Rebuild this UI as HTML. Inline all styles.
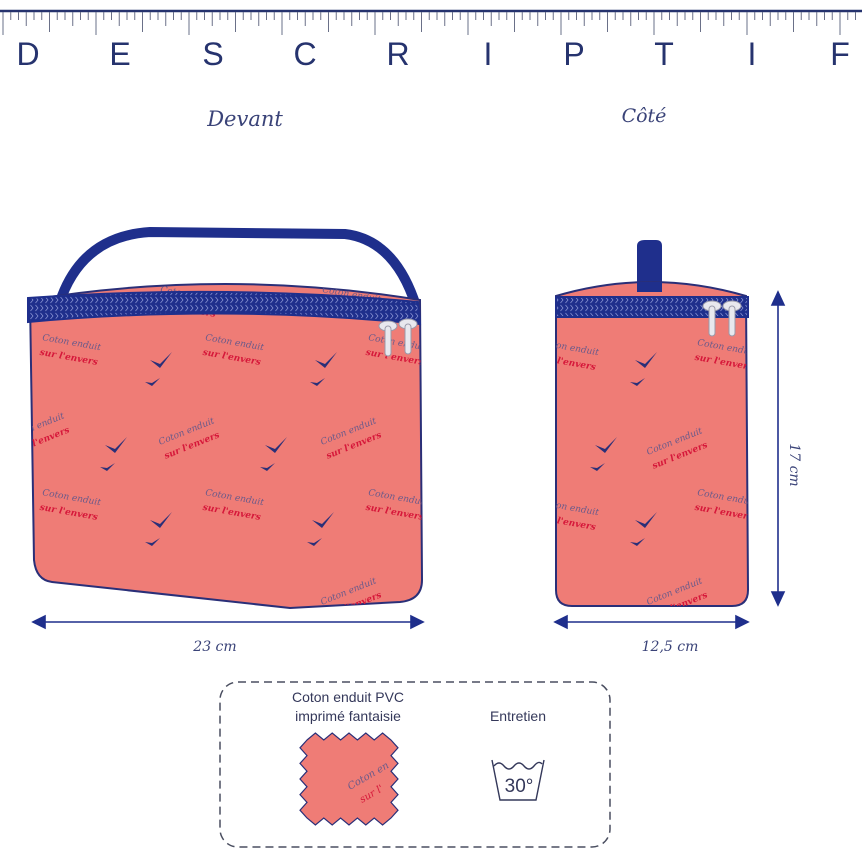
<!DOCTYPE html>
<html><head><meta charset="utf-8"><style>
html,body{margin:0;padding:0;background:#fff;}
svg{display:block}
.cur{font-family:"DejaVu Serif","Liberation Serif",serif;font-style:italic;}
</style></head><body>
<svg id="s" width="862" height="862" viewBox="0 0 862 862" xmlns="http://www.w3.org/2000/svg">
<defs>
<pattern id="zip" width="5" height="8" patternUnits="userSpaceOnUse">
<rect width="5" height="8" fill="#1f2f8c"/>
<path d="M0.5 1 L3 4 L0.5 7" stroke="#8d97d6" stroke-width="0.7" fill="none"/>
</pattern>
<clipPath id="cf"><path d="M30 300 Q225 268 420 300 L422 580 Q422 600 400 602 L290 608 L52 582 Q36 580 34 560 Z"/></clipPath>
<clipPath id="cs"><path d="M556 296 Q650 268 746 296 L748 590 Q748 606 732 606 L572 606 Q556 606 556 590 Z"/></clipPath>
<g id="mot">
<text x="0" y="0" font-size="9" fill="#6a5a8a" class="cur" transform="rotate(10)">Coton enduit</text>
<text x="0" y="15" font-size="9" fill="#d6183a" class="cur" font-weight="bold" transform="rotate(10)">sur l'envers</text>
</g>
<g id="bird"><path d="M0 0 L10 8 L22 -8 L10 4 Z" fill="#2a2f78"/><path d="M-5 22 L2 26 L10 18 L2 23 Z" fill="#2a2f78"/></g>
</defs>
<line x1="0" y1="11" x2="862" y2="11" stroke="#26336e" stroke-width="2.5"/>
<g id="ticks" stroke="#6a7088" stroke-width="1"></g>
<g font-family="Liberation Sans, sans-serif" font-size="32" fill="#26336e" text-anchor="middle">
<text x="28" y="65">D</text><text x="120" y="65">E</text><text x="213" y="65">S</text><text x="305" y="65">C</text><text x="398" y="65">R</text><text x="488" y="65">I</text><text x="574" y="65">P</text><text x="664" y="65">T</text><text x="752" y="65">I</text><text x="840" y="65">F</text>
</g>
<text x="245" y="126" font-size="21" fill="#3a4378" class="cur" text-anchor="middle">Devant</text>
<text x="644" y="122" font-size="19" fill="#3a4378" class="cur" text-anchor="middle">Côté</text>

<!-- front bag -->
<path d="M62 296 Q85 236 150 232 L345 234 Q395 240 416 306" stroke="#1f2f8c" stroke-width="10" fill="none" stroke-linecap="round"/>
<path d="M30 300 Q225 268 420 300 L422 580 Q422 600 400 602 L290 608 L52 582 Q36 580 34 560 Z" fill="#ef7c76" stroke="#2a2f78" stroke-width="2"/>
<g clip-path="url(#cf)">
<use href="#mot" x="42" y="340"/><use href="#mot" x="205" y="340"/><use href="#mot" x="368" y="340"/>
<use href="#mot" x="160" y="445" transform="rotate(-32 160 445)"/><use href="#mot" x="322" y="445" transform="rotate(-32 322 445)"/><use href="#mot" x="10" y="440" transform="rotate(-32 10 440)"/>
<use href="#mot" x="42" y="495"/><use href="#mot" x="205" y="495"/><use href="#mot" x="368" y="495"/>
<use href="#mot" x="322" y="605" transform="rotate(-32 322 605)"/>
<use href="#mot" x="160" y="292"/><use href="#mot" x="322" y="292"/>
<use href="#bird" x="150" y="360"/><use href="#bird" x="315" y="360"/><use href="#bird" x="105" y="445"/><use href="#bird" x="265" y="445"/><use href="#bird" x="150" y="520"/><use href="#bird" x="312" y="520"/>
</g>
<path d="M28 298 Q225 284 418 302 L420 324 Q225 304 28 322 Z" fill="url(#zip)" stroke="#1f2f8c" stroke-width="2"/>
<g fill="#e8e8ee" stroke="#9a9aaa" stroke-width="1"><ellipse cx="388" cy="326" rx="9" ry="5"/><ellipse cx="408" cy="324" rx="9" ry="5"/><rect x="385" y="326" width="6" height="30" rx="3"/><rect x="405" y="324" width="6" height="30" rx="3"/></g>

<!-- side bag -->
<path d="M637 290 L637 246 Q637 240 645 240 L656 240 Q662 240 662 246 L662 290 Z" fill="#1f2f8c"/>
<path d="M556 296 Q650 268 746 296 L748 590 Q748 606 732 606 L572 606 Q556 606 556 590 Z" fill="#ef7c76" stroke="#2a2f78" stroke-width="2"/>
<g clip-path="url(#cs)">
<use href="#mot" x="540" y="345"/><use href="#mot" x="697" y="345"/>
<use href="#mot" x="648" y="455" transform="rotate(-32 648 455)"/>
<use href="#mot" x="540" y="505"/><use href="#mot" x="697" y="495"/>
<use href="#mot" x="648" y="605" transform="rotate(-32 648 605)"/>
<use href="#bird" x="635" y="360"/><use href="#bird" x="595" y="445"/><use href="#bird" x="635" y="520"/>
</g>
<path d="M637 292 L637 282 L662 282 L662 292 Z" fill="#1f2f8c"/>
<rect x="556" y="297" width="192" height="20" fill="url(#zip)" stroke="#1f2f8c" stroke-width="2"/>
<g fill="#e8e8ee" stroke="#9a9aaa" stroke-width="1"><ellipse cx="712" cy="306" rx="9" ry="5"/><ellipse cx="732" cy="306" rx="9" ry="5"/><rect x="709" y="306" width="6" height="30" rx="3"/><rect x="729" y="306" width="6" height="30" rx="3"/></g>

<!-- dimensions -->
<g stroke="#1f2f8c" stroke-width="1.6" fill="#1f2f8c">
<line x1="40" y1="622" x2="416" y2="622"/><path d="M33 622 L45 616 L45 628Z"/><path d="M423 622 L411 616 L411 628Z"/>
<line x1="562" y1="622" x2="741" y2="622"/><path d="M555 622 L567 616 L567 628Z"/><path d="M748 622 L736 616 L736 628Z"/>
<line x1="778" y1="300" x2="778" y2="597"/><path d="M778 292 L772 305 L784 305Z"/><path d="M778 605 L772 592 L784 592Z"/>
</g>
<text x="215" y="651" font-size="14" fill="#3a4378" class="cur" text-anchor="middle">23 cm</text>
<text x="670" y="651" font-size="14" fill="#3a4378" class="cur" text-anchor="middle">12,5 cm</text>
<text x="0" y="0" font-size="14" fill="#3a4378" class="cur" text-anchor="middle" transform="translate(790 465) rotate(90)">17 cm</text>

<!-- info box -->
<rect x="220" y="682" width="390" height="165" rx="18" fill="none" stroke="#4a4e60" stroke-width="1.5" stroke-dasharray="8 5"/>
<g font-family="Liberation Sans, sans-serif" font-size="14" fill="#34385a" text-anchor="middle">
<text x="348" y="702">Coton enduit PVC</text><text x="348" y="721">imprimé fantaisie</text><text x="518" y="721">Entretien</text>
</g>
<path id="sw" fill="#ef7c76" stroke="#2a2f78" stroke-width="1.2"/>
<text x="350" y="790" font-size="10" fill="#6a5a8a" class="cur" transform="rotate(-30 350 790)">Coton en</text>
<text x="362" y="803" font-size="10" fill="#d6183a" class="cur" transform="rotate(-30 362 803)">sur l'</text>
<path d="M492 760 L500 800 L536 800 L544 760" fill="none" stroke="#34385a" stroke-width="1.4"/>
<path d="M494 766 q5 -6 10 0 q5 6 10 0 q5 -6 10 0 q5 6 10 0 q5 -6 8 -2" fill="none" stroke="#34385a" stroke-width="1.4"/>
<text x="519" y="792" font-family="Liberation Sans, sans-serif" font-size="19" fill="#34385a" text-anchor="middle">30°</text>
</svg>
<script>
var g=document.getElementById('ticks'),h='';
for(var i=0;i<112;i++){var x=3+i*7.75,l=20;if(i%12==0)l=35;else if(i%6==0)l=32;else if(i%3==0)l=26;h+='<line x1="'+x+'" y1="12" x2="'+x+'" y2="'+l+'"/>';}
g.innerHTML=h;
var d='',x0=307,y0=740,x1=391,y1=818,n=5,st=(x1-x0)/n,sv=(y1-y0)/n,a=7;
d='M'+x0+' '+y0;
for(var i=0;i<n;i++){d+=' L'+(x0+st*(i+.5))+' '+(y0-a)+' L'+(x0+st*(i+1))+' '+y0;}
for(var i=0;i<n;i++){d+=' L'+(x1+a)+' '+(y0+sv*(i+.5))+' L'+x1+' '+(y0+sv*(i+1));}
for(var i=0;i<n;i++){d+=' L'+(x1-st*(i+.5))+' '+(y1+a)+' L'+(x1-st*(i+1))+' '+y1;}
for(var i=0;i<n;i++){d+=' L'+(x0-a)+' '+(y1-sv*(i+.5))+' L'+x0+' '+(y1-sv*(i+1));}
document.getElementById('sw').setAttribute('d',d+'Z');
</script>
</body></html>
